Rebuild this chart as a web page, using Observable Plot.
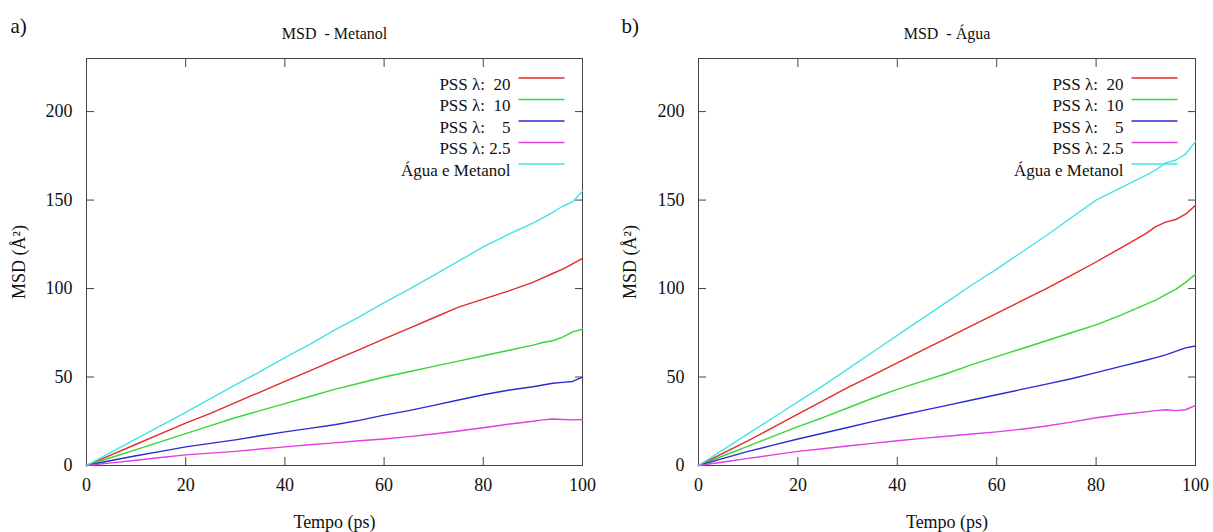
<!DOCTYPE html>
<html>
<head>
<meta charset="utf-8">
<script src="https://cdn.jsdelivr.net/npm/d3@7"></script>
<script src="https://cdn.jsdelivr.net/npm/@observablehq/plot@0.6"></script>
<style>
  html, body { margin: 0; padding: 0; background: #fff; }
  #wrap { display: flex; width: 1213px; height: 532px; overflow: hidden; }
  #wrap svg, #wrap svg text { font-family: "Liberation Serif", "Times New Roman", serif !important; }
</style>
</head>
<body>
<div id="wrap"></div>
<script>
// Time points (ps)
const time = [0,5,10,15,20,25,30,35,40,45,50,55,60,65,70,75,80,85,90,92,94,96,98,100];

// Series labels and colours
const seriesLabels = ["PSS\u00a0λ:\u00a0\u00a020", "PSS\u00a0λ:\u00a0\u00a010", "PSS\u00a0λ:\u00a0\u00a0\u00a0\u00a05", "PSS\u00a0λ:\u00a02.5", "Água e Metanol"];
const seriesKeys = ["l20", "l10", "l5", "l2_5", "mix"];
const seriesColors = ["#e42a2a", "#36d636", "#2b2bd6", "#e23ee2", "#45e3e3"];

// Panel a) MSD - Metanol
const metanol_l20  = [0,6,12,18,24,29.5,35.5,41.5,47.5,53.5,59.5,65.5,71.5,77.5,83.5,89.5,94,98.5,103.5,106,108.5,111,114,117];
const metanol_l10  = [0,4.5,9,13.5,18,22.5,27,31,35,39,43,46.5,50,53,56,59,62,65,68,69.5,70.5,72.5,75.5,77];
const metanol_l5   = [0,2.8,5.5,8,10.5,12.5,14.5,16.8,19,21,23,25.5,28.5,31,34,37,40,42.5,44.5,45.5,46.5,47,47.5,50];
const metanol_l2_5 = [0,1.5,3,4.5,6,7,8,9.3,10.5,11.7,12.8,14,15,16.3,17.8,19.5,21.3,23.3,25,25.8,26.3,26,25.8,26];
const metanol_mix  = [0,7.5,15,22.5,30,37.8,45.5,53,61,68.5,76.5,84,92,99.5,107.5,115.5,123.5,130.5,137,140,143,146.5,149,155];

// Panel b) MSD - Água
const agua_l20  = [0,7,14,21.5,29,36.5,44,51,58,65,72,79,86,93,100,107.5,115,123,131,135,137.5,139,142,147];
const agua_l10  = [0,5.5,11,16.5,22,27,32.5,38,43,47.5,52,57,61.5,66,70.5,75,79.5,85,91,93.5,96.5,99.5,103.5,108];
const agua_l5   = [0,4,8,11.5,15,18.2,21.5,24.8,28,31,34,37,40,43,46,49,52.5,56,59.5,61,62.5,64.5,66.5,67.5];
const agua_l2_5 = [0,2,4,6,8,9.5,11,12.5,14,15.3,16.5,17.8,19,20.5,22.3,24.5,27,28.8,30.3,31,31.5,31,31.5,34];
const agua_mix  = [0,9,18,27,36,45,54.5,64,73.5,83,92.5,102,111,120.5,130,140,150,157,164,167,171,172.5,176,183];

// Axis ticks
const xTicks = [0,20,40,60,80,100];
const yTicks = [0,50,100,150,200];
const xDomain = [0,100];
const yDomain = [0,230];

function toRows(arrays) {
  const rows = [];
  seriesKeys.forEach((k, si) => {
    arrays[si].forEach((v, i) => rows.push({t: time[i], v, s: k}));
  });
  return rows;
}

const lineSymbol = {
  draw(context) { context.moveTo(-23, 0); context.lineTo(23, 0); }
};

function panel({letter, title, arrays, width, marginLeft, marginRight, letterDx, ylabelOffset}) {
  const rows = toRows(arrays);
  const marks = [
    Plot.frame({stroke: "#444", strokeWidth: 1}),
    Plot.axisX(xTicks, {anchor: "bottom", tickSize: -8, tickPadding: 21, stroke: "#444", fill: "#111", fontSize: 18,
      label: "Tempo (ps)", labelAnchor: "center", labelOffset: 62, labelArrow: "none"}),
    Plot.axisX(xTicks, {anchor: "top", tickSize: -8, stroke: "#444", tickFormat: () => "", label: null}),
    Plot.axisY(yTicks, {anchor: "left", tickSize: -8, tickPadding: 22, stroke: "#444", fill: "#111", fontSize: 18,
      label: "MSD (Å²)", labelAnchor: "center", labelOffset: ylabelOffset, labelArrow: "none"}),
    Plot.axisY(yTicks, {anchor: "right", tickSize: -8, stroke: "#444", tickFormat: () => "", label: null}),
    Plot.line(rows, {x: "t", y: "v", z: "s", stroke: d => seriesColors[seriesKeys.indexOf(d.s)], strokeWidth: 1.4}),
    Plot.text([title], {frameAnchor: "top", dy: -31, fontSize: 16, fill: "#111"}),
    Plot.text([letter], {frameAnchor: "top-left", dx: letterDx, dy: -40, textAnchor: "start", fontSize: 21, fill: "#111"})
  ];
  seriesLabels.forEach((lab, i) => {
    marks.push(Plot.text([lab], {frameAnchor: "top-right", dx: -72, dy: 19 + i * 21.5, textAnchor: "end", fontSize: 17, fill: "#111"}));
    marks.push(Plot.dot([lab], {frameAnchor: "top-right", dx: -41, dy: 19.5 + i * 21.5, symbol: lineSymbol, fill: "none", stroke: seriesColors[i], strokeWidth: 1.5, r: 3}));
  });
  return Plot.plot({
    width, height: 532,
    marginLeft, marginRight, marginTop: 58, marginBottom: 67,
    style: {fontFamily: "Liberation Serif", fontSize: "18px", background: "#fff", color: "#111", overflow: "visible"},
    x: {domain: xDomain},
    y: {domain: yDomain},
    marks
  });
}

const wrap = document.getElementById("wrap");
wrap.appendChild(panel({letter: "a)", title: "MSD\u00a0\u00a0- Metanol",
  arrays: [metanol_l20, metanol_l10, metanol_l5, metanol_l2_5, metanol_mix],
  width: 606, marginLeft: 86, marginRight: 24, letterDx: -76, ylabelOffset: 74}));
wrap.appendChild(panel({letter: "b)", title: "MSD\u00a0\u00a0- Água",
  arrays: [agua_l20, agua_l10, agua_l5, agua_l2_5, agua_mix],
  width: 607, marginLeft: 92, marginRight: 18, letterDx: -77, ylabelOffset: 75}));
</script>
</body>
</html>
